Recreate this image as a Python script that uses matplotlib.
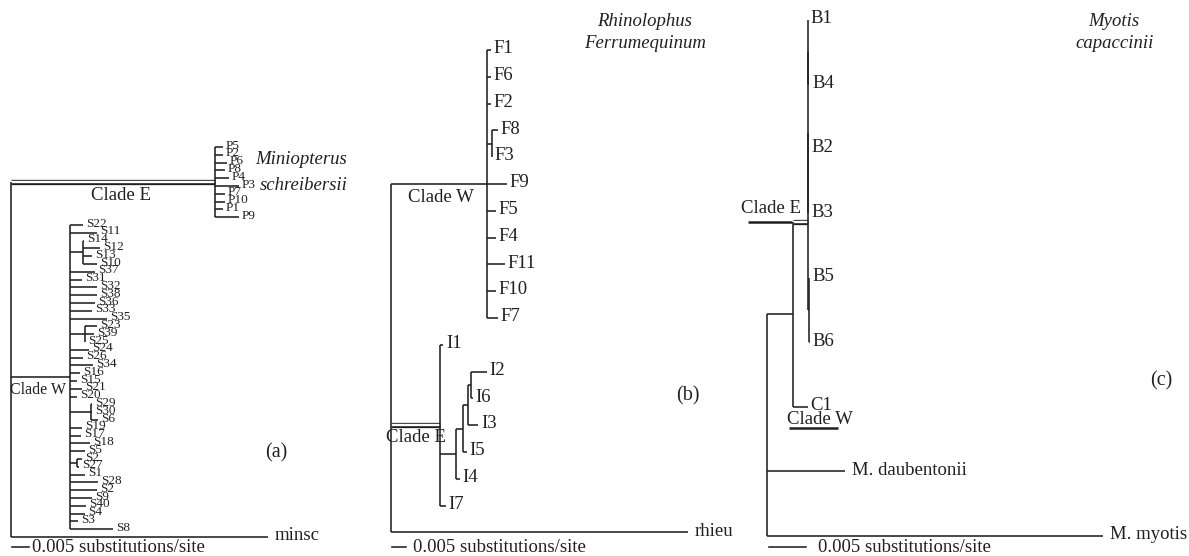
import matplotlib
matplotlib.use('Agg')
import matplotlib.pyplot as plt

plt.rcParams['font.family'] = ['Liberation Serif', 'DejaVu Serif']
INK = '#231f20'
W, H = 1189, 556

# branch lengths in units of 0.001 substitutions/site (scale bar = 5)
tree_a = ("((P5:2.4,P2:2.4,P6:3.5,P8:2.9,P4:4.1,P3:7.1,P7:2.9,P10:2.9,P1:2.4,P9:7.1)CladeE:60.0,"
          "(S22:3.8,S11:7.9,(S14:0.3,S12:5.0,S13:2.6,S10:4.1):3.8,S37:7.4,S31:3.5,S32:7.9,S38:7.9,"
          "S36:7.4,S33:6.5,S35:10.9,(S23:3.5,S39:2.6,S25:0.0):4.4,S24:5.6,S26:3.8,S34:6.8,S16:2.9,"
          "S15:2.1,S21:3.5,S20:2.1,(S29:0.4,S30:0.4,S6:2.1):6.1,S19:3.5,S17:3.2,S18:5.9,S5:4.4,"
          "(S2:1.5,S27:0.6):2.1,S1:4.4,S28:8.2,S2:7.9,S9:6.5,S40:4.7,S4:4.4,S3:2.4,S8:12.6)CladeW:17.4,"
          "minsc:75.6);")
tree_b = ("((F1:1.4,F6:1.4,F2:1.4,(F8:2.1,F3:0.0):1.8,F9:7.1,F5:3.2,F4:3.2,F11:6.4,F10:3.2,F7:3.9)CladeW:34.3,"
          "(I1:1.1,((((I2:5.7,I6:0.7):1.1,I3:3.6):1.8,I5:1.4):2.5,I4:1.4):5.7,I7:2.1)CladeE:17.5,"
          "rhieu:106.0);")
tree_c = ("(((((B1:0.0,B4:0.15):0.05,B2:0.1,B3:0.1):0.0,(B5:0.0,B6:0.1):0.2)CladeE:2.0,C1:2.0):3.5,"
          "M. daubentonii:10.5,M. myotis:45.4);")

outgroups = ['minsc', 'rhieu', 'M. daubentonii', 'M. myotis']


def parse_newick(s):
    pos = 0

    def parse():
        nonlocal pos
        node = {'children': [], 'name': '', 'bl': 0.0}
        if s[pos] == '(':
            pos += 1
            while True:
                node['children'].append(parse())
                if s[pos] == ',':
                    pos += 1
                    continue
                pos += 1  # ')'
                break
        start = pos
        while s[pos] not in ':,();':
            pos += 1
        node['name'] = s[start:pos]
        if s[pos] == ':':
            pos += 1
            start = pos
            while s[pos] not in ',();':
                pos += 1
            node['bl'] = float(s[start:pos])
        return node

    return parse()


def layout(node, x0, counter):
    node['x'] = x0 + node['bl']
    if not node['children']:
        node['y'] = counter[0]
        counter[0] += 1
    else:
        for c in node['children']:
            layout(c, node['x'], counter)
        node['y'] = (node['children'][0]['y'] + node['children'][-1]['y']) / 2


def find(node, name):
    if node['name'] == name:
        return node
    for c in node['children']:
        r = find(c, name)
        if r:
            return r
    return None


def draw(ax, node, px, fs):
    x, y = node['x'], node['y']
    if px is not None and x > px:
        if node['name'] == 'CladeE':
            ax.plot([px, x], [y, y], color=INK, lw=3.8, solid_capstyle='butt', zorder=2)
            ax.plot([px, x], [y, y], color='white', lw=1.7, solid_capstyle='butt', zorder=2.5)
        else:
            ax.plot([px, x], [y, y], color=INK, lw=1.15, solid_capstyle='butt', zorder=2)
    if node['children']:
        ax.plot([x, x], [node['children'][0]['y'], node['children'][-1]['y']],
                color=INK, lw=1.15, solid_capstyle='butt', zorder=3)
        for c in node['children']:
            draw(ax, c, x, fs)
    else:
        if node['name'] in outgroups:
            ax.annotate(node['name'], (x, y), xytext=(5, 1), textcoords='offset points',
                        va='center', ha='left', fontsize=13.5, color=INK)
        else:
            ax.annotate(node['name'], (x, y), xytext=(2, 1), textcoords='offset points',
                        va='center', ha='left', fontsize=fs, color=INK)


fig = plt.figure(figsize=(W / 100, H / 100), dpi=100)
bg = fig.add_axes([0, 0, 1, 1])
bg.set_xlim(0, W)
bg.set_ylim(H, 0)
bg.axis('off')

# panel: (tree, root x px, first tip y px, tip spacing px, px per unit, tip font)
panels = [(tree_a, 11, 147, 7.8, 3.4, 9.5),
          (tree_b, 391, 50, 26.8, 2.8, 13.5),
          (tree_c, 767, 20, 64.5, 7.4, 13.5)]
roots = []
for s, rx, y0, sp, ppu, fs in panels:
    root = parse_newick(s)
    layout(root, 0.0, [0])
    ax = fig.add_axes([0, 0, 1, 1])
    ax.set_xlim(-rx / ppu, (W - rx) / ppu)
    ax.set_ylim((H - y0) / sp, -y0 / sp)
    ax.axis('off')
    draw(ax, root, None, fs)
    # scale bar 0.005 substitutions/site
    yb = (547 - y0) / sp
    ax.plot([0.3, 5.3], [yb, yb], color=INK, lw=1.15)
    roots.append((root, rx, y0, sp, ppu))


def t(x, y, s, **kw):
    kw.setdefault('fontsize', 13.5)
    kw.setdefault('color', INK)
    kw.setdefault('ha', 'center')
    kw.setdefault('va', 'center')
    bg.text(x, y, s, **kw)


# scale bar texts
t(32, 547, '0.005 substitutions/site', ha='left')
t(413, 547, '0.005 substitutions/site', ha='left')
t(818, 547, '0.005 substitutions/site', ha='left')

# species names
t(301, 159, 'Miniopterus', style='italic')
t(304, 186, 'schreibersii', style='italic')
t(645, 21, 'Rhinolophus', style='italic')
t(645, 43, 'Ferrumequinum', style='italic')
t(1114, 21, 'Myotis', style='italic')
t(1115, 43, 'capaccinii', style='italic')

# panel letters
t(276, 453, '(a)', fontsize=14.5)
t(688, 396, '(b)', fontsize=14.5)
t(1161, 381, '(c)', fontsize=14.5)

# clade labels
t(121, 195, 'Clade E')
t(10, 390, 'Clade W', ha='left', fontsize=11.5)
t(441, 198, 'Clade W')
t(416, 437, 'Clade E')
root_c, rx, y0, sp, ppu = roots[2]
ye = y0 + find(root_c, 'CladeE')['y'] * sp
t(771, ye - 13, 'Clade E')
bg.plot([748, 792], [ye, ye], color=INK, lw=1.8, solid_capstyle='butt')
t(820, 420, 'Clade W')
bg.plot([789, 838], [428, 428], color=INK, lw=1.8, solid_capstyle='butt')

fig.savefig('out.png', dpi=100)
